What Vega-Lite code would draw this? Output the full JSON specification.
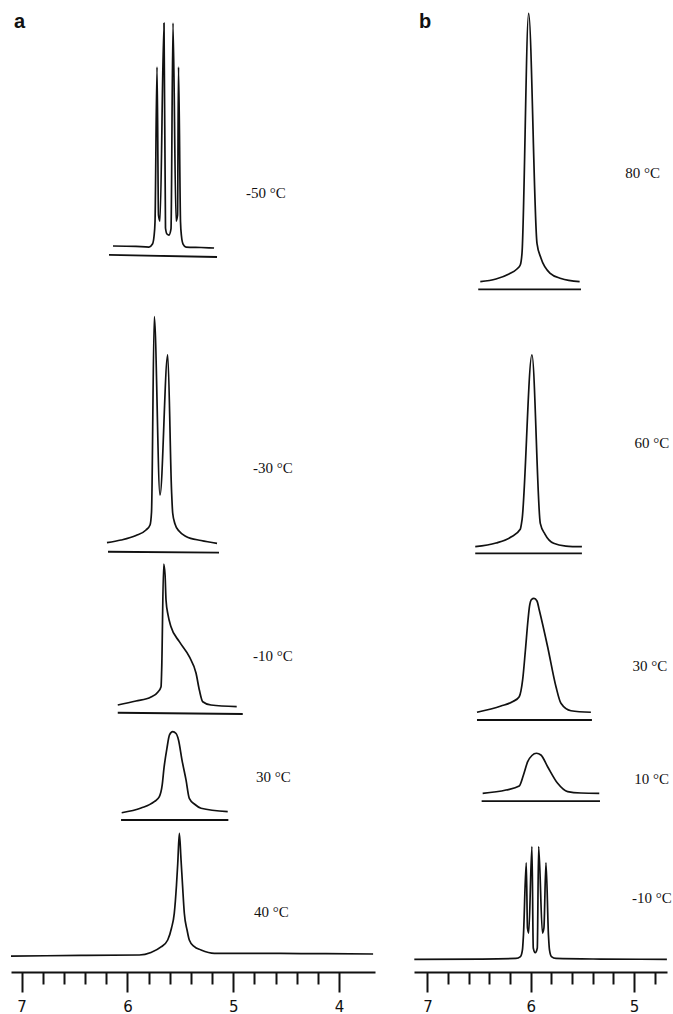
{
  "$schema": "https://vega.github.io/schema/vega-lite/v6.json",
  "padding": {"left": 10, "top": 5, "right": 0, "bottom": 0},
  "background": "white",
  "config": {"view": {"stroke": null}, "concat": {"spacing": 39}},
  "bounds": "flush",
  "spacing": 39,
  "datasets": {
    "spec": [
      {"p":"a","s":"a-50","x":6.136,"y":75.08},{"p":"a","s":"a-50","x":5.919,"y":75.03},{"p":"a","s":"a-50","x":5.796,"y":74.97},{"p":"a","s":"a-50","x":5.763,"y":75.28},{"p":"a","s":"a-50","x":5.748,"y":76.11},{"p":"a","s":"a-50","x":5.739,"y":77.56},{"p":"a","s":"a-50","x":5.720,"y":93.59},{"p":"a","s":"a-50","x":5.706,"y":78.28},{"p":"a","s":"a-50","x":5.692,"y":77.66},{"p":"a","s":"a-50","x":5.654,"y":98.14},{"p":"a","s":"a-50","x":5.640,"y":76.94},{"p":"a","s":"a-50","x":5.626,"y":76.32},{"p":"a","s":"a-50","x":5.607,"y":76.21},{"p":"a","s":"a-50","x":5.588,"y":76.84},{"p":"a","s":"a-50","x":5.569,"y":98.14},{"p":"a","s":"a-50","x":5.540,"y":77.66},{"p":"a","s":"a-50","x":5.526,"y":78.28},{"p":"a","s":"a-50","x":5.517,"y":93.59},{"p":"a","s":"a-50","x":5.498,"y":77.56},{"p":"a","s":"a-50","x":5.489,"y":76.11},{"p":"a","s":"a-50","x":5.474,"y":75.28},{"p":"a","s":"a-50","x":5.446,"y":74.97},{"p":"a","s":"a-50","x":5.304,"y":74.92},{"p":"a","s":"a-50","x":5.181,"y":74.87},
      {"p":"a","s":"a-30","x":6.193,"y":44.40},{"p":"a","s":"a-30","x":6.060,"y":44.67},{"p":"a","s":"a-30","x":5.919,"y":45.14},{"p":"a","s":"a-30","x":5.824,"y":45.71},{"p":"a","s":"a-30","x":5.786,"y":46.23},{"p":"a","s":"a-30","x":5.772,"y":47.57},{"p":"a","s":"a-30","x":5.746,"y":67.77},{"p":"a","s":"a-30","x":5.692,"y":49.33},{"p":"a","s":"a-30","x":5.619,"y":63.81},{"p":"a","s":"a-30","x":5.583,"y":49.84},{"p":"a","s":"a-30","x":5.572,"y":47.47},{"p":"a","s":"a-30","x":5.550,"y":46.33},{"p":"a","s":"a-30","x":5.512,"y":45.60},{"p":"a","s":"a-30","x":5.446,"y":45.04},{"p":"a","s":"a-30","x":5.304,"y":44.62},{"p":"a","s":"a-30","x":5.153,"y":44.33},
      {"p":"a","s":"a-10","x":6.091,"y":27.61},{"p":"a","s":"a-10","x":5.919,"y":28.02},{"p":"a","s":"a-10","x":5.777,"y":28.44},{"p":"a","s":"a-10","x":5.711,"y":28.96},{"p":"a","s":"a-10","x":5.682,"y":29.50},{"p":"a","s":"a-10","x":5.676,"y":31.23},{"p":"a","s":"a-10","x":5.657,"y":42.19},{"p":"a","s":"a-10","x":5.644,"y":41.05},{"p":"a","s":"a-10","x":5.635,"y":38.47},{"p":"a","s":"a-10","x":5.616,"y":36.92},{"p":"a","s":"a-10","x":5.588,"y":35.71},{"p":"a","s":"a-10","x":5.509,"y":34.16},{"p":"a","s":"a-10","x":5.415,"y":32.61},{"p":"a","s":"a-10","x":5.351,"y":30.89},{"p":"a","s":"a-10","x":5.320,"y":29.16},{"p":"a","s":"a-10","x":5.288,"y":27.95},{"p":"a","s":"a-10","x":5.210,"y":27.61},{"p":"a","s":"a-10","x":4.967,"y":27.44},
      {"p":"a","s":"a30","x":6.054,"y":16.47},{"p":"a","s":"a30","x":5.871,"y":16.96},{"p":"a","s":"a30","x":5.746,"y":17.61},{"p":"a","s":"a30","x":5.698,"y":18.13},{"p":"a","s":"a30","x":5.671,"y":19.34},{"p":"a","s":"a30","x":5.654,"y":21.10},{"p":"a","s":"a30","x":5.626,"y":23.16},{"p":"a","s":"a30","x":5.602,"y":24.51},{"p":"a","s":"a30","x":5.572,"y":24.85},{"p":"a","s":"a30","x":5.540,"y":24.66},{"p":"a","s":"a30","x":5.517,"y":23.99},{"p":"a","s":"a30","x":5.484,"y":21.92},{"p":"a","s":"a30","x":5.446,"y":19.86},{"p":"a","s":"a30","x":5.415,"y":17.96},{"p":"a","s":"a30","x":5.361,"y":17.32},{"p":"a","s":"a30","x":5.304,"y":16.93},{"p":"a","s":"a30","x":5.052,"y":16.58},
      {"p":"a","s":"a40","x":7.1,"y":1.65},{"p":"a","s":"a40","x":6.438,"y":1.71},{"p":"a","s":"a40","x":5.887,"y":1.76},{"p":"a","s":"a40","x":5.777,"y":2.02},{"p":"a","s":"a40","x":5.682,"y":2.59},{"p":"a","s":"a40","x":5.619,"y":3.31},{"p":"a","s":"a40","x":5.583,"y":4.55},{"p":"a","s":"a40","x":5.557,"y":6.07},{"p":"a","s":"a40","x":5.536,"y":9.00},{"p":"a","s":"a40","x":5.524,"y":11.24},{"p":"a","s":"a40","x":5.509,"y":14.34},{"p":"a","s":"a40","x":5.493,"y":11.58},{"p":"a","s":"a40","x":5.479,"y":9.00},{"p":"a","s":"a40","x":5.462,"y":6.07},{"p":"a","s":"a40","x":5.436,"y":4.34},{"p":"a","s":"a40","x":5.415,"y":3.31},{"p":"a","s":"a40","x":5.370,"y":2.64},{"p":"a","s":"a40","x":5.304,"y":2.28},{"p":"a","s":"a40","x":5.178,"y":1.93},{"p":"a","s":"a40","x":4.359,"y":1.91},{"p":"a","s":"a40","x":3.678,"y":1.86},
      {"p":"b","s":"b80","x":6.488,"y":71.39},{"p":"b","s":"b80","x":6.336,"y":71.66},{"p":"b","s":"b80","x":6.210,"y":72.18},{"p":"b","s":"b80","x":6.133,"y":72.70},{"p":"b","s":"b80","x":6.101,"y":73.11},{"p":"b","s":"b80","x":6.084,"y":74.35},{"p":"b","s":"b80","x":6.020,"y":99.14},{"p":"b","s":"b80","x":5.939,"y":75.36},{"p":"b","s":"b80","x":5.901,"y":73.84},{"p":"b","s":"b80","x":5.811,"y":72.25},{"p":"b","s":"b80","x":5.707,"y":71.72},{"p":"b","s":"b80","x":5.526,"y":71.39},
      {"p":"b","s":"b60","x":6.537,"y":43.98},{"p":"b","s":"b60","x":6.336,"y":44.36},{"p":"b","s":"b60","x":6.191,"y":44.98},{"p":"b","s":"b60","x":6.101,"y":45.78},{"p":"b","s":"b60","x":6.084,"y":46.74},{"p":"b","s":"b60","x":5.988,"y":63.81},{"p":"b","s":"b60","x":5.907,"y":46.40},{"p":"b","s":"b60","x":5.862,"y":45.29},{"p":"b","s":"b60","x":5.778,"y":44.33},{"p":"b","s":"b60","x":5.659,"y":44.05},{"p":"b","s":"b60","x":5.504,"y":43.98},
      {"p":"b","s":"b30","x":6.520,"y":26.86},{"p":"b","s":"b30","x":6.288,"y":27.51},{"p":"b","s":"b30","x":6.172,"y":27.97},{"p":"b","s":"b30","x":6.111,"y":28.47},{"p":"b","s":"b30","x":6.078,"y":30.20},{"p":"b","s":"b30","x":6.051,"y":33.30},{"p":"b","s":"b30","x":6.026,"y":36.40},{"p":"b","s":"b30","x":6.012,"y":37.78},{"p":"b","s":"b30","x":5.993,"y":38.52},{"p":"b","s":"b30","x":5.968,"y":38.64},{"p":"b","s":"b30","x":5.939,"y":38.37},{"p":"b","s":"b30","x":5.917,"y":37.44},{"p":"b","s":"b30","x":5.836,"y":33.64},{"p":"b","s":"b30","x":5.755,"y":29.50},{"p":"b","s":"b30","x":5.707,"y":27.79},{"p":"b","s":"b30","x":5.610,"y":27.02},{"p":"b","s":"b30","x":5.417,"y":26.86},
      {"p":"b","s":"b10","x":6.465,"y":18.48},{"p":"b","s":"b10","x":6.239,"y":18.82},{"p":"b","s":"b10","x":6.111,"y":19.23},{"p":"b","s":"b10","x":6.070,"y":20.37},{"p":"b","s":"b10","x":6.029,"y":21.75},{"p":"b","s":"b10","x":5.988,"y":22.39},{"p":"b","s":"b10","x":5.944,"y":22.62},{"p":"b","s":"b10","x":5.901,"y":22.44},{"p":"b","s":"b10","x":5.836,"y":21.23},{"p":"b","s":"b10","x":5.739,"y":19.51},{"p":"b","s":"b10","x":5.642,"y":18.65},{"p":"b","s":"b10","x":5.513,"y":18.51},{"p":"b","s":"b10","x":5.336,"y":18.48},
      {"p":"b","s":"b-10","x":7.127,"y":1.31},{"p":"b","s":"b-10","x":6.481,"y":1.34},{"p":"b","s":"b-10","x":6.143,"y":1.40},{"p":"b","s":"b-10","x":6.099,"y":1.60},{"p":"b","s":"b-10","x":6.080,"y":2.28},{"p":"b","s":"b-10","x":6.070,"y":3.83},{"p":"b","s":"b-10","x":6.043,"y":11.30},{"p":"b","s":"b-10","x":6.031,"y":4.55},{"p":"b","s":"b-10","x":6.019,"y":4.03},{"p":"b","s":"b-10","x":5.988,"y":12.96},{"p":"b","s":"b-10","x":5.975,"y":2.48},{"p":"b","s":"b-10","x":5.956,"y":2.00},{"p":"b","s":"b-10","x":5.936,"y":2.48},{"p":"b","s":"b-10","x":5.923,"y":12.96},{"p":"b","s":"b-10","x":5.886,"y":4.03},{"p":"b","s":"b-10","x":5.872,"y":4.55},{"p":"b","s":"b-10","x":5.852,"y":11.30},{"p":"b","s":"b-10","x":5.828,"y":3.83},{"p":"b","s":"b-10","x":5.818,"y":2.28},{"p":"b","s":"b-10","x":5.799,"y":1.60},{"p":"b","s":"b-10","x":5.755,"y":1.40},{"p":"b","s":"b-10","x":5.320,"y":1.34},{"p":"b","s":"b-10","x":4.681,"y":1.31}
    ],
    "refs": [
      {"p":"a","s":"a-50","x":6.174,"y":74.15},{"p":"a","s":"a-50","x":5.153,"y":73.94},
      {"p":"a","s":"a-30","x":6.183,"y":43.46},{"p":"a","s":"a-30","x":5.134,"y":43.36},
      {"p":"a","s":"a-10","x":6.091,"y":26.81},{"p":"a","s":"a-10","x":4.910,"y":26.68},
      {"p":"a","s":"a30","x":6.060,"y":15.72},{"p":"a","s":"a30","x":5.046,"y":15.72},
      {"p":"b","s":"b80","x":6.508,"y":70.60},{"p":"b","s":"b80","x":5.513,"y":70.60},
      {"p":"b","s":"b60","x":6.537,"y":43.30},{"p":"b","s":"b60","x":5.504,"y":43.30},
      {"p":"b","s":"b30","x":6.520,"y":26.06},{"p":"b","s":"b30","x":5.407,"y":26.06},
      {"p":"b","s":"b10","x":6.475,"y":17.68},{"p":"b","s":"b10","x":5.329,"y":17.68}
    ],
    "labels": [
      {"p":"a","t":"-50 °C","x":4.879,"y":80.56},{"p":"a","t":"-30 °C","x":4.813,"y":52.12},{"p":"a","t":"-10 °C","x":4.813,"y":32.68},{"p":"a","t":"30 °C","x":4.784,"y":20.17},{"p":"a","t":"40 °C","x":4.803,"y":6.24},
      {"p":"b","t":"80 °C","x":5.085,"y":82.59},{"p":"b","t":"60 °C","x":4.994,"y":54.67},{"p":"b","t":"30 °C","x":5.013,"y":31.64},{"p":"b","t":"10 °C","x":4.997,"y":19.93},{"p":"b","t":"-10 °C","x":5.020,"y":7.62}
    ],
    "titles": [
      {"p":"a","t":"a","x":7.072,"y":98.24},{"p":"b","t":"b","x":7.082,"y":98.24}
    ]
  },
  "hconcat": [
    {
      "width": 364, "height": 967,
      "layer": [
        {
          "data": {"name": "spec"},
          "transform": [{"filter": "datum.p === 'a'"}],
          "mark": {"type": "line", "color": "#111", "strokeWidth": 1.7, "strokeJoin": "round", "interpolate": "monotone"},
          "encoding": {
            "x": {"field": "x", "type": "quantitative", "scale": {"domain": [3.66, 7.1], "reverse": true, "nice": false, "zero": false},
              "axis": {"values": [7, 6.8, 6.6, 6.4, 6.2, 6, 5.8, 5.6, 5.4, 5.2, 5, 4.8, 4.6, 4.4, 4.2, 4], "tickCount": 100, "title": null, "grid": false,
                "domainWidth": 2, "domainColor": "#111", "tickWidth": 2, "tickColor": "#111", "tickCap": "butt",
                "tickSize": {"condition": {"test": "abs(datum.value - round(datum.value)) < 0.01", "value": 20}, "value": 12},
                "labelExpr": "abs(datum.value - round(datum.value)) < 0.01 ? format(datum.value, 'd') : ''",
                "labelFont": "DejaVu Sans", "labelFontSize": 15, "labelColor": "#111", "labelPadding": 7, "labelFlush": false, "labelOverlap": false}},
            "y": {"field": "y", "type": "quantitative", "scale": {"domain": [0, 100], "nice": false, "zero": false}, "axis": null},
            "detail": {"field": "s"}
          }
        },
        {
          "data": {"name": "refs"},
          "transform": [{"filter": "datum.p === 'a'"}],
          "mark": {"type": "line", "color": "#111", "strokeWidth": 1.8},
          "encoding": {
            "x": {"field": "x", "type": "quantitative", "scale": {"domain": [3.66, 7.1], "reverse": true, "nice": false, "zero": false}},
            "y": {"field": "y", "type": "quantitative", "scale": {"domain": [0, 100], "nice": false, "zero": false}},
            "detail": {"field": "s"}
          }
        },
        {
          "data": {"name": "labels"},
          "transform": [{"filter": "datum.p === 'a'"}],
          "mark": {"type": "text", "align": "left", "baseline": "middle", "font": "Liberation Serif", "fontSize": 15, "color": "#111"},
          "encoding": {
            "x": {"field": "x", "type": "quantitative", "scale": {"domain": [3.66, 7.1], "reverse": true, "nice": false, "zero": false}},
            "y": {"field": "y", "type": "quantitative", "scale": {"domain": [0, 100], "nice": false, "zero": false}},
            "text": {"field": "t"}
          }
        },
        {
          "data": {"name": "titles"},
          "transform": [{"filter": "datum.p === 'a'"}],
          "mark": {"type": "text", "align": "left", "baseline": "middle", "font": "Liberation Sans", "fontWeight": "bold", "fontSize": 20, "color": "#111"},
          "encoding": {
            "x": {"field": "x", "type": "quantitative", "scale": {"domain": [3.66, 7.1], "reverse": true, "nice": false, "zero": false}},
            "y": {"field": "y", "type": "quantitative", "scale": {"domain": [0, 100], "nice": false, "zero": false}},
            "text": {"field": "t"}
          }
        }
      ]
    },
    {
      "width": 253, "height": 967,
      "layer": [
        {
          "data": {"name": "spec"},
          "transform": [{"filter": "datum.p === 'b'"}],
          "mark": {"type": "line", "color": "#111", "strokeWidth": 1.7, "strokeJoin": "round", "interpolate": "monotone"},
          "encoding": {
            "x": {"field": "x", "type": "quantitative", "scale": {"domain": [4.68, 7.13], "reverse": true, "nice": false, "zero": false},
              "axis": {"values": [7, 6.8, 6.6, 6.4, 6.2, 6, 5.8, 5.6, 5.4, 5.2, 5, 4.8], "tickCount": 100, "title": null, "grid": false,
                "domainWidth": 2, "domainColor": "#111", "tickWidth": 2, "tickColor": "#111", "tickCap": "butt",
                "tickSize": {"condition": {"test": "abs(datum.value - round(datum.value)) < 0.01", "value": 20}, "value": 12},
                "labelExpr": "abs(datum.value - round(datum.value)) < 0.01 ? format(datum.value, 'd') : ''",
                "labelFont": "DejaVu Sans", "labelFontSize": 15, "labelColor": "#111", "labelPadding": 7, "labelFlush": false, "labelOverlap": false}},
            "y": {"field": "y", "type": "quantitative", "scale": {"domain": [0, 100], "nice": false, "zero": false}, "axis": null},
            "detail": {"field": "s"}
          }
        },
        {
          "data": {"name": "refs"},
          "transform": [{"filter": "datum.p === 'b'"}],
          "mark": {"type": "line", "color": "#111", "strokeWidth": 1.8},
          "encoding": {
            "x": {"field": "x", "type": "quantitative", "scale": {"domain": [4.68, 7.13], "reverse": true, "nice": false, "zero": false}},
            "y": {"field": "y", "type": "quantitative", "scale": {"domain": [0, 100], "nice": false, "zero": false}},
            "detail": {"field": "s"}
          }
        },
        {
          "data": {"name": "labels"},
          "transform": [{"filter": "datum.p === 'b'"}],
          "mark": {"type": "text", "align": "left", "baseline": "middle", "font": "Liberation Serif", "fontSize": 15, "color": "#111"},
          "encoding": {
            "x": {"field": "x", "type": "quantitative", "scale": {"domain": [4.68, 7.13], "reverse": true, "nice": false, "zero": false}},
            "y": {"field": "y", "type": "quantitative", "scale": {"domain": [0, 100], "nice": false, "zero": false}},
            "text": {"field": "t"}
          }
        },
        {
          "data": {"name": "titles"},
          "transform": [{"filter": "datum.p === 'b'"}],
          "mark": {"type": "text", "align": "left", "baseline": "middle", "font": "Liberation Sans", "fontWeight": "bold", "fontSize": 20, "color": "#111"},
          "encoding": {
            "x": {"field": "x", "type": "quantitative", "scale": {"domain": [4.68, 7.13], "reverse": true, "nice": false, "zero": false}},
            "y": {"field": "y", "type": "quantitative", "scale": {"domain": [0, 100], "nice": false, "zero": false}},
            "text": {"field": "t"}
          }
        }
      ]
    }
  ]
}
